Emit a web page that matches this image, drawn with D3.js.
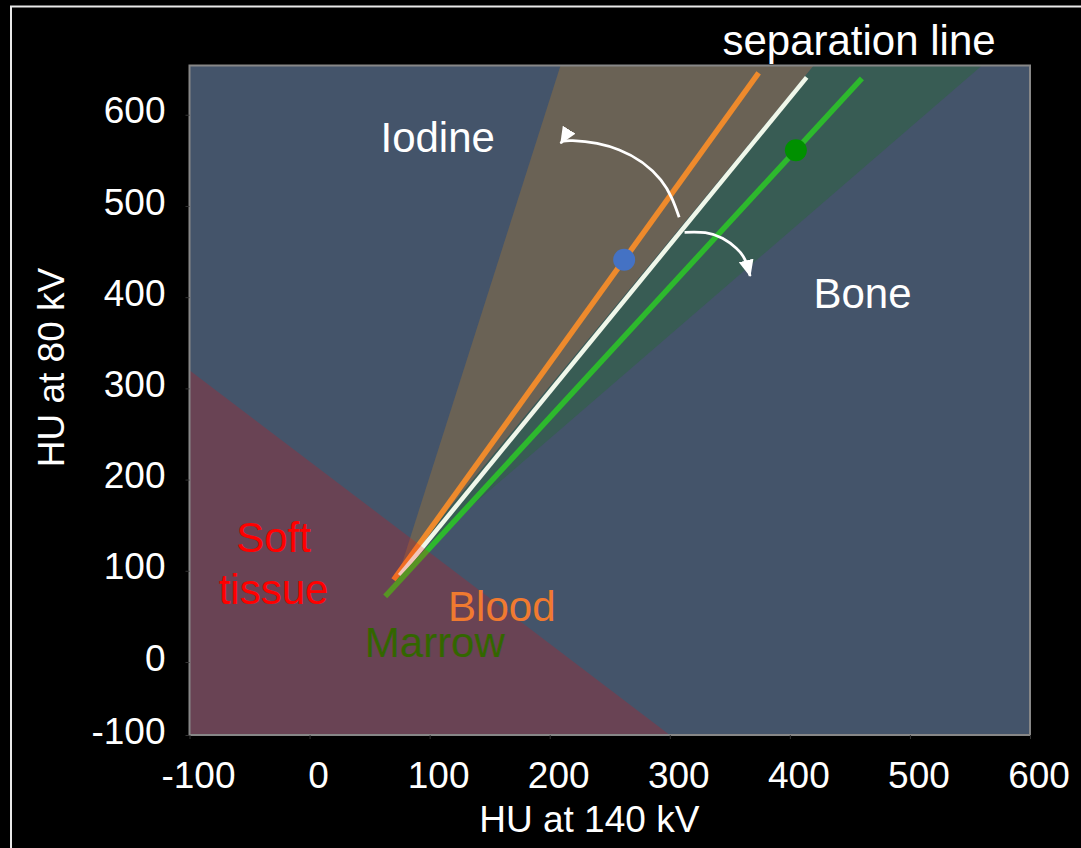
<!DOCTYPE html>
<html>
<head>
<meta charset="utf-8">
<script src="https://cdn.jsdelivr.net/npm/d3@7"></script>
<style>
  html, body { margin: 0; padding: 0; background: #000; }
  svg { display: block; }
  text { font-family: "Liberation Sans", Arial, Helvetica, sans-serif; }
</style>
</head>
<body>
<svg id="chart" width="1081" height="848"></svg>
<script>
// ---- axis ticks (HU) ----
const xTicks = [-100, 0, 100, 200, 300, 400, 500, 600];
const yTicks = [-100, 0, 100, 200, 300, 400, 500, 600];

// ---- material lines: [HU at 140 kV, HU at 80 kV] end points ----
const bloodLine      = [[70, 90], [374, 646]];
const separationLine = [[75, 95], [414, 641]];
const marrowLine     = [[63, 72], [460, 640]];

// ---- sample points on the blood and marrow lines ----
const bloodPoint  = [262, 441];
const marrowPoint = [405, 561];

// ---- shaded regions ----
const iodineRegion     = [[76, 104], [209, 654], [420, 654]];
const boneRegion       = [[76, 104], [420, 654], [560, 654]];
const softTissueRegion = [[-100, 320], [300, -100], [-100, -100]];

// ---- curved arrows showing how the separation line sorts voxels ----
const toIodineArrow = [[307.8, 487.6], [292.5, 528.5], [258.0, 561.4], [219.2, 571.6], [209.2, 568.7]];
const toBoneArrow   = [[312.3, 471.1], [329.6, 470.7], [343.9, 464.5], [355.4, 453.6], [362.6, 441.2], [366.9, 423.2]];

// ---- region / line names ----
const labelNames  = ["Iodine", "Bone", "Soft", "tissue", "Blood", "Marrow", "separation line"];
const labelX      = [106.7, 460.5, -30, -30, 160.1, 104.3, 457.6];
const labelY      = [559.5, 387.8, 120.3, 63.6, 45.3, 5.2, 665.5];
const labelColors = ["#ffffff", "#ffffff", "#ff0000", "#ff0000", "#f07a30", "#336600", "#ffffff"];

const W = 1081, H = 848;
const plot = { left: 189.5, right: 1030, top: 65.5, bottom: 735, zero: 662 };

const svg = d3.select("#chart");

const x = d3.scaleLinear().domain([-100, 600]).range([plot.left, plot.right]);
// the -100..0 band is drawn a little shorter than the other 100 HU steps
const y = d3.scaleLinear().domain([-100, 0, 654]).range([plot.bottom, plot.zero, plot.top]);

const defs = svg.append("defs");
defs.append("clipPath").attr("id", "plotClip")
  .append("rect")
  .attr("x", plot.left).attr("y", plot.top)
  .attr("width", plot.right - plot.left).attr("height", plot.bottom - plot.top);

defs.append("marker")
  .attr("id", "arrowHead")
  .attr("viewBox", "0 0 17 15")
  .attr("refX", 16).attr("refY", 7.5)
  .attr("markerWidth", 17).attr("markerHeight", 15)
  .attr("markerUnits", "userSpaceOnUse")
  .attr("orient", "auto")
  .append("path")
  .attr("d", "M0,0 L17,7.5 L0,15 Z")
  .attr("fill", "#ffffff");

// outer frame
svg.append("rect")
  .attr("x", 11).attr("y", 6.5)
  .attr("width", W + 20).attr("height", H + 20)
  .attr("fill", "none").attr("stroke", "#e8e8e8").attr("stroke-width", 2);

// plot background
svg.append("rect")
  .attr("x", plot.left).attr("y", plot.top)
  .attr("width", plot.right - plot.left).attr("height", plot.bottom - plot.top)
  .attr("fill", "#44546a");

const g = svg.append("g").attr("clip-path", "url(#plotClip)");
const poly = pts => "M" + pts.map(p => x(p[0]) + "," + y(p[1])).join("L") + "Z";
const line = d3.line().x(d => x(d[0])).y(d => y(d[1]));

g.append("path").attr("d", poly(iodineRegion)).attr("fill", "#6a6255");
g.append("path").attr("d", poly(boneRegion)).attr("fill", "#385c54");

g.append("path").attr("d", line(bloodLine))
  .attr("stroke", "#ee8a2c").attr("stroke-width", 5.5).attr("fill", "none");
g.append("path").attr("d", line(separationLine))
  .attr("stroke", "#f0f7ea").attr("stroke-width", 4.5).attr("fill", "none");
g.append("path").attr("d", line(marrowLine))
  .attr("stroke", "#2db92d").attr("stroke-width", 5.5).attr("fill", "none");

g.append("circle").attr("cx", x(bloodPoint[0])).attr("cy", y(bloodPoint[1]))
  .attr("r", 11).attr("fill", "#4472c4");
g.append("circle").attr("cx", x(marrowPoint[0])).attr("cy", y(marrowPoint[1]))
  .attr("r", 11).attr("fill", "#009000");

// translucent soft-tissue zone laid over everything below it
g.append("path").attr("d", poly(softTissueRegion))
  .attr("fill", "#ff0000").attr("fill-opacity", 0.2);

// curved arrows
const curve = d3.line().x(d => x(d[0])).y(d => y(d[1])).curve(d3.curveNatural);
[toIodineArrow, toBoneArrow].forEach(a => {
  svg.append("path").attr("d", curve(a))
    .attr("fill", "none").attr("stroke", "#ffffff").attr("stroke-width", 2.8)
    .attr("marker-end", "url(#arrowHead)");
});

// plot border
svg.append("rect")
  .attr("x", plot.left).attr("y", plot.top)
  .attr("width", plot.right - plot.left).attr("height", plot.bottom - plot.top)
  .attr("fill", "none").attr("stroke", "#878787").attr("stroke-width", 2);

// axes
const fmt = d => String(d);
const xAxis = svg.append("g")
  .attr("transform", `translate(0,${plot.bottom})`)
  .call(d3.axisBottom(x).tickValues(xTicks).tickFormat(fmt).tickSize(4).tickSizeOuter(0));
xAxis.select(".domain").remove();
xAxis.selectAll(".tick line").attr("stroke", "#333");
xAxis.selectAll(".tick text")
  .attr("y", 52.5).attr("dy", null).attr("dx", 8.5)
  .attr("fill", "#ffffff").style("font-size", "37px")
  .style("font-family", "\"Liberation Sans\", Arial, sans-serif");

const yAxis = svg.append("g")
  .attr("transform", `translate(${plot.left},0)`)
  .call(d3.axisLeft(y).tickValues(yTicks).tickFormat(fmt).tickSize(4).tickPadding(20).tickSizeOuter(0));
yAxis.select(".domain").remove();
yAxis.selectAll(".tick line").attr("stroke", "#333");
yAxis.selectAll(".tick text")
  .attr("dy", "0.22em")
  .attr("fill", "#ffffff").style("font-size", "37px")
  .style("font-family", "\"Liberation Sans\", Arial, sans-serif");

// axis titles
svg.append("text")
  .attr("x", 589.3).attr("y", 832)
  .attr("text-anchor", "middle").attr("fill", "#ffffff")
  .style("font-size", "37px")
  .text("HU at 140 kV");
svg.append("text")
  .attr("transform", "translate(64,367.5) rotate(-90)")
  .attr("text-anchor", "middle").attr("fill", "#ffffff")
  .style("font-size", "37px")
  .text("HU at 80 kV");

// region / line names
labelNames.forEach((name, i) => {
  svg.append("text")
    .attr("x", x(labelX[i])).attr("y", y(labelY[i]))
    .attr("text-anchor", "middle").attr("fill", labelColors[i])
    .style("font-size", "42px")
    .text(name);
});
</script>
</body>
</html>
